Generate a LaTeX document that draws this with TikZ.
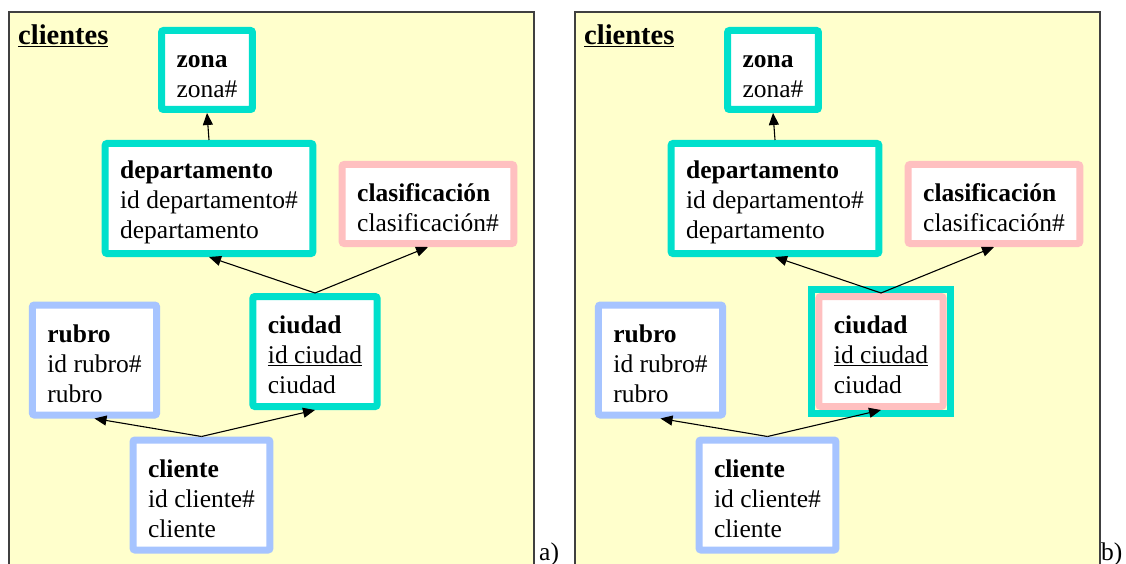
\documentclass[tikz,border=0pt]{standalone}
\usepackage{fontspec}
\setmainfont{Liberation Serif}
\usetikzlibrary{arrows.meta,fit}
\definecolor{turq}{RGB}{0,224,204}
\definecolor{azul}{RGB}{166,196,255}
\definecolor{rosa}{RGB}{255,192,192}
\definecolor{papel}{RGB}{255,255,204}
\newcommand{\tope}{\rule{0pt}{25pt}}

\begin{document}
\begin{tikzpicture}[x=1pt,y=-1pt,
  every node/.style={font=\fontsize{25.5}{30}\selectfont},
  panel/.style={draw=black!75,line width=1.5pt,fill=papel},
  titulo/.style={anchor=base west,inner sep=0pt,font=\fontsize{28.5}{34}\selectfont\bfseries},
  tabla/.style={draw=#1,line width=7pt,fill=white,rounded corners=2pt,align=left,inner xsep=15pt,inner ysep=0pt},
  dos/.style={minimum height=79pt},
  tres/.style={minimum height=110pt},
  rel/.style={-{Triangle[length=12pt,width=10pt]},line width=1.1pt}]
 \useasboundingbox (0,0) rectangle (1126,564);
 \clip (0,0) rectangle (1126,564);
 % a) modelo original
 \draw[panel] (9,12) rectangle (534,580);
 \node[titulo] (tituloA) at (18,45) {\underline{clientes}};
 \node[tabla=turq,dos] (zonaA) at (207,70) {\tope\textbf{zona}\\zona\#};
 \node[tabla=turq,tres] (deptoA) at (209,198.5) {\tope\textbf{departamento}\\id departamento\#\\departamento};
 \node[tabla=rosa,dos] (clasifA) at (428,204) {\tope\textbf{clasificación}\\clasificación\#};
 \node[tabla=turq,tres] (ciudadA) at (315,351.5) {\tope\textbf{ciudad}\\\underline{id ciudad}\\ciudad};
 \node[tabla=azul,tres] (rubroA) at (94.5,360) {\tope\textbf{rubro}\\id rubro\#\\rubro};
 \node[tabla=azul,tres] (clienteA) at (201.5,495) {\tope\textbf{cliente}\\id cliente\#\\cliente};
 \draw[rel] (deptoA.north) -- (zonaA.south);
 \draw[rel] (ciudadA.north) -- (deptoA.south);
 \draw[rel] (ciudadA.north) -- (clasifA.south);
 \draw[rel] (clienteA.north) -- (rubroA.south);
 \draw[rel] (clienteA.north) -- (ciudadA.south);
 \node[anchor=base west,inner sep=0pt] (etiqA) at (539,560) {a)};
 % b) ciudad con doble rol
 \begin{scope}[xshift=566pt]
  \draw[panel] (9,12) rectangle (534,580);
  \node[titulo] (tituloB) at (18,45) {\underline{clientes}};
  \node[tabla=turq,dos] (zonaB) at (207,70) {\tope\textbf{zona}\\zona\#};
  \node[tabla=turq,tres] (deptoB) at (209,198.5) {\tope\textbf{departamento}\\id departamento\#\\departamento};
  \node[tabla=rosa,dos] (clasifB) at (428,204) {\tope\textbf{clasificación}\\clasificación\#};
  \node[tabla=rosa,tres] (ciudadB) at (315,351.5) {\tope\textbf{ciudad}\\\underline{id ciudad}\\ciudad};
  \node[fit=(ciudadB),inner sep=3.5pt,draw=turq,line width=7pt] (marcoB) {};
  \node[tabla=azul,tres] (rubroB) at (94.5,360) {\tope\textbf{rubro}\\id rubro\#\\rubro};
  \node[tabla=azul,tres] (clienteB) at (201.5,495) {\tope\textbf{cliente}\\id cliente\#\\cliente};
  \draw[rel] (deptoB.north) -- (zonaB.south);
  \draw[rel] (ciudadB.north) -- (deptoB.south);
  \draw[rel] (ciudadB.north) -- (clasifB.south);
  \draw[rel] (clienteB.north) -- (rubroB.south);
  \draw[rel] (clienteB.north) -- (ciudadB.south);
  \node[anchor=base west,inner sep=0pt] (etiqB) at (535,560) {b)};
 \end{scope}
\end{tikzpicture}
\end{document}
